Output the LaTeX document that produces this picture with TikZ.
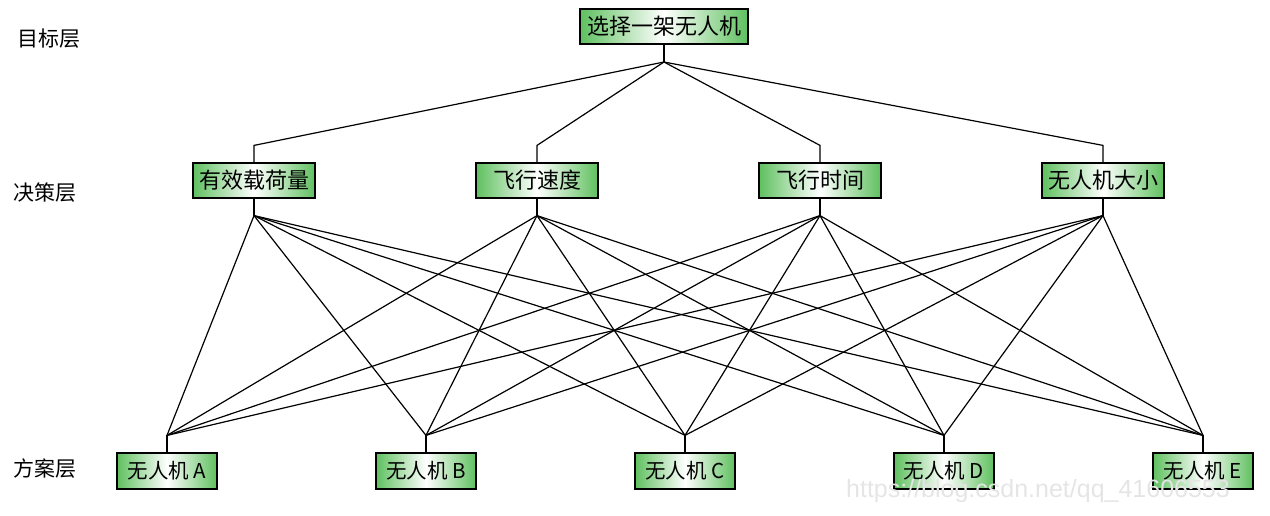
\documentclass[tikz,border=0pt]{standalone}
\usepackage{fontspec}
\newfontfamily\cjk{Noto Sans CJK SC}
\newfontfamily\wmfont{Liberation Sans}
\definecolor{boxgreen}{RGB}{95,192,95}
\begin{document}
\begin{tikzpicture}[x=1pt,y=-1pt,
  gbox/.style={draw=black,line width=1.2pt,inner sep=0pt,
    left color=boxgreen,right color=boxgreen,middle color=white,
    font=\cjk\fontsize{22}{22}\selectfont,minimum height=35pt},
  lvl/.style={font=\cjk\fontsize{21}{21}\selectfont},
  ln/.style={line width=1.2pt,black}]
\useasboundingbox (0,0) rectangle (1270,515);
% goal
\node[gbox,minimum width=168pt] (G) at (664,26.5) {选择一架无人机};
\coordinate (Gj) at (664,62);
% criteria
\node[gbox,minimum width=122pt] (C1) at (254,180.5) {有效载荷量};
\node[gbox,minimum width=122pt] (C2) at (537,180.5) {飞行速度};
\node[gbox,minimum width=122pt] (C3) at (820,180.5) {飞行时间};
\node[gbox,minimum width=122pt] (C4) at (1103,180.5) {无人机大小};
\foreach \i in {1,2,3,4}{
  \coordinate (T\i) at ([yshift=17pt]C\i.north);
  \coordinate (B\i) at ([yshift=-17pt]C\i.south);
}
% alternatives
\tikzset{abox/.style={gbox,minimum width=100pt,minimum height=36pt,font=\cjk\fontsize{20.5}{20.5}\selectfont}}
\node[abox] (A1) at (167,471) {无人机 A};
\node[abox] (A2) at (426,471) {无人机 B};
\node[abox] (A3) at (685,471) {无人机 C};
\node[abox] (A4) at (944,471) {无人机 D};
\node[abox] (A5) at (1203,471) {无人机 E};
\foreach \j in {1,...,5}{
  \coordinate (J\j) at ([yshift=17pt]A\j.north);
}
% connectors
\draw[ln] (G.south) -- (Gj);
\foreach \i in {1,2,3,4}{
  \draw[ln] (Gj) -- (T\i) -- (C\i.north);
  \draw[ln] (C\i.south) -- (B\i);
  \foreach \j in {1,...,5}{
    \draw[ln] (B\i) -- (J\j);
  }
}
\foreach \j in {1,...,5}{
  \draw[ln] (J\j) -- (A\j.north);
}
% level labels
\node[lvl] (L1) at (49,39) {目标层};
\node[lvl] (L2) at (45,193) {决策层};
\node[lvl] (L3) at (45,469) {方案层};
% watermark
\node[font=\wmfont\fontsize{25}{25}\selectfont,text=black!10] (WM) at (1038,491) {https://blog.csdn.net/qq\_41606553};
\end{tikzpicture}
\end{document}
